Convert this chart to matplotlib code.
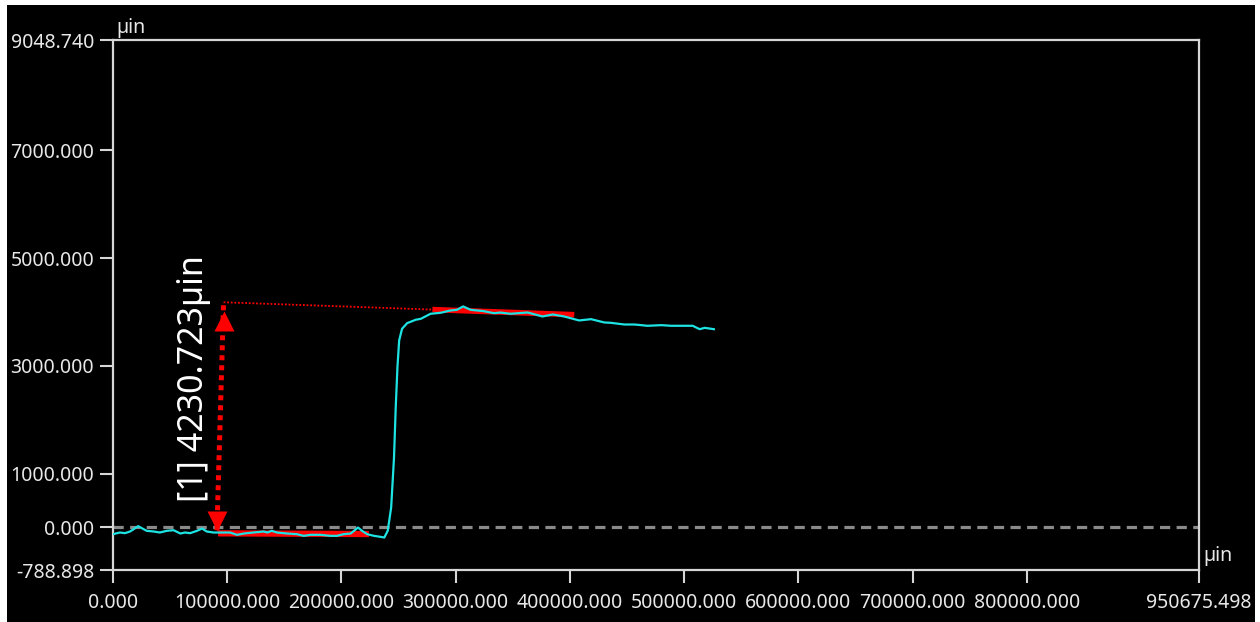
import matplotlib
matplotlib.use("Agg")
import matplotlib.pyplot as plt
from matplotlib.patches import Rectangle
from matplotlib.transforms import ScaledTranslation

# ---- profile trace (µin) ----
profile_x = [
    0, 6000, 10500, 15000, 22000, 29500, 35500, 41000, 47000, 53000,
    59000, 63000, 67500, 73500, 78000, 82000, 88000, 94000, 102500, 108500,
    114500, 123000, 132000, 135000, 139000, 143500, 152500, 161000, 167000, 173000,
    181500, 190500, 196000, 202000, 208000, 211000, 214500, 218000, 222500, 228500,
    234000, 237500, 240500, 243500, 246000, 247500, 249000, 250500, 253000, 257500,
    265000, 269500, 278000, 287000, 295500, 301000, 306500, 313000, 324500, 333500,
    339000, 348000, 363000, 376000, 385000, 395000, 408000, 418500, 430000, 436000,
    447500, 456500, 468000, 480000, 488500, 500500, 507500, 513500, 518000, 526000,
]
profile_y = [
    -124, -93, -105, -74, 25, -62, -74, -93, -62, -50,
    -112, -93, -105, -62, -19, -74, -93, -93, -93, -136,
    -112, -93, -74, -93, -62, -93, -112, -124, -155, -136,
    -136, -155, -155, -124, -112, -62, 0, -62, -124, -155,
    -173, -186, -61, 372, 1301, 2231, 2975, 3471, 3688, 3793,
    3856, 3874, 3967, 3986, 4029, 4040, 4103, 4041, 4016, 3978,
    3990, 3967, 3991, 3917, 3954, 3917, 3843, 3867, 3806, 3799,
    3768, 3768, 3744, 3756, 3744, 3744, 3744, 3681, 3706, 3681,
]

# ---- reference fit segments ----
lower_fit_x = [92000, 224000]
lower_fit_y = [-108, -122]
upper_fit_x = [279600, 403800]
upper_fit_y = [4045, 3950]

# ---- step height measurement ----
meas_x = [91000, 96800]          # bottom / top end of the arrow
meas_low = -50.0
meas_height = 4230.723
meas_top = meas_low + meas_height

# ---- axes ----
x_min, x_max = 0.0, 950675.498
y_min, y_max = -788.898, 9048.740
x_ticks = [0, 100000, 200000, 300000, 400000, 500000, 600000, 700000, 800000, 950675.498]
y_ticks = [-788.898, 0, 1000, 3000, 5000, 7000, 9048.740]
unit = "µin"

FONT = "Noto Sans"
FG = "#e8e8e8"
SPINE = "#d6d6d6"
CYAN = "#1ee3e3"
RED = "#ff0000"
LABEL_SIZE = 14

fig = plt.figure(figsize=(12.6, 6.22), dpi=100, facecolor="white")
fig.patches.append(Rectangle((7 / 1260, 0), (1255 - 7) / 1260, (622 - 5) / 622,
                             transform=fig.transFigure, facecolor="black",
                             edgecolor="none", zorder=-10))

ax = fig.add_axes([113 / 1260, (622 - 570) / 622, (1199 - 113) / 1260, (570 - 40) / 622])
ax.set_zorder(1)
ax.set_facecolor("black")
ax.set_xlim(x_min, x_max)
ax.set_ylim(y_min, y_max)

for s in ax.spines.values():
    s.set_color(SPINE)
    s.set_linewidth(1.6)

ax.set_xticks(x_ticks)
ax.set_yticks(y_ticks)
ax.set_xticklabels([f"{v:.3f}" for v in x_ticks])
ax.set_yticklabels([f"{v:.3f}" for v in y_ticks])
ax.tick_params(axis="both", direction="out", length=9.5, width=1.5, color=SPINE,
               labelcolor=FG, labelsize=LABEL_SIZE)
ax.tick_params(axis="x", pad=7)
ax.tick_params(axis="y", pad=4)
for lab in ax.get_xticklabels() + ax.get_yticklabels():
    lab.set_fontfamily(FONT)

# zero reference line
ax.axhline(0, color="#8a8a8a", lw=2.3, dashes=(3.2, 2.0), zorder=2)

# fit segments
ax.plot(lower_fit_x, lower_fit_y, color=RED, lw=4.5, solid_capstyle="butt", zorder=3)
ax.plot(upper_fit_x, upper_fit_y, color=RED, lw=4.0, solid_capstyle="butt", zorder=3)

# profile
ax.plot(profile_x, profile_y, color=CYAN, lw=1.6, zorder=4)

# extension of the upper fit back to the measurement position
ax.plot([meas_x[1], upper_fit_x[0]], [meas_top, upper_fit_y[0]], color=RED,
        lw=1.3, dashes=(1, 1), zorder=3)

# measurement arrow
ax.plot(meas_x, [meas_low, meas_top], color=RED, lw=3.6, dashes=(1, 1), zorder=5)
down_off = ax.transData + ScaledTranslation(0, 9.5 / 100, fig.dpi_scale_trans)
up_off = ax.transData + ScaledTranslation(0, -18.5 / 100, fig.dpi_scale_trans)
ax.plot([meas_x[0]], [meas_low], marker="v", ms=13.7, color=RED, mec="none",
        transform=down_off, zorder=6)
ax.plot([meas_x[1]], [meas_top], marker="^", ms=13.7, color=RED, mec="none",
        transform=up_off, zorder=6)

ax.text(0.0745, 0.362, f"[1] {meas_height:.3f}{unit}", transform=ax.transAxes,
        rotation=90, ha="center", va="center", color="white", fontsize=24.5,
        fontfamily=FONT, zorder=7)

# unit labels
ax.text(0.003, 1.004, unit, transform=ax.transAxes, ha="left", va="bottom",
        color=FG, fontsize=LABEL_SIZE, fontfamily=FONT)
ax.text(1.004, 0.008, unit, transform=ax.transAxes, ha="left", va="bottom",
        color=FG, fontsize=LABEL_SIZE, fontfamily=FONT)

fig.savefig("out.png", dpi=100, facecolor="white")
